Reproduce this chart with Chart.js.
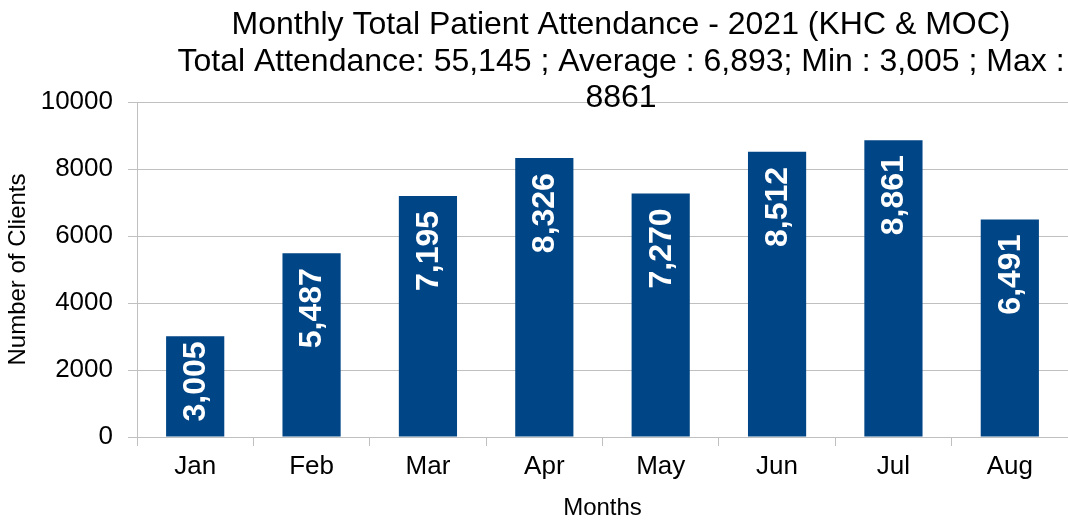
<!DOCTYPE html>
<html>
<head>
<meta charset="utf-8">
<script src="https://cdn.jsdelivr.net/npm/chart.js@4.4.1/dist/chart.umd.min.js"></script>
<style>
  html, body { margin: 0; padding: 0; background: #fff; }
  #wrap { width: 1068px; height: 520px; position: relative; }
</style>
</head>
<body>
<div id="wrap"><canvas id="c" width="1068" height="520"></canvas></div>
<script>
const categories = ["Jan", "Feb", "Mar", "Apr", "May", "Jun", "Jul", "Aug"];
const attendance = [3005, 5487, 7195, 8326, 7270, 8512, 8861, 6491];
const yTicks = [0, 2000, 4000, 6000, 8000, 10000];
const yTickLabels = ["0", "2000", "4000", "6000", "8000", "10000"];
const barLabels = ["3,005", "5,487", "7,195", "8,326", "7,270", "8,512", "8,861", "6,491"];
const titleLines = [
  "Monthly Total Patient Attendance - 2021 (KHC & MOC)",
  "Total Attendance: 55,145 ; Average : 6,893; Min : 3,005 ; Max :",
  "8861"
];
const yTitle = "Number of Clients";
const xTitle = "Months";

const FONT = "'Liberation Sans', Arial, sans-serif";
const BAR = "#004586";
const GRID = "#c0c0c0";

const titlePlugin = {
  id: 'multiTitle',
  afterDraw(chart) {
    const ctx = chart.ctx;
    ctx.save();
    ctx.fillStyle = '#000';
    ctx.font = "32px " + FONT;
    ctx.textAlign = 'center';
    ctx.textBaseline = 'middle';
    const ys = [25, 62, 98];
    titleLines.forEach((t, i) => ctx.fillText(t, 621, ys[i]));
    ctx.restore();
  }
};

const labelPlugin = {
  id: 'barLabels',
  afterDatasetsDraw(chart) {
    const ctx = chart.ctx;
    const meta = chart.getDatasetMeta(0);
    ctx.save();
    ctx.fillStyle = '#fff';
    ctx.font = "bold 32px " + FONT;
    ctx.textAlign = 'right';
    ctx.textBaseline = 'middle';
    meta.data.forEach((el, i) => {
      const txt = barLabels[i];
      const w = ctx.measureText(txt).width;
      let top = el.y + 15;
      if (top + w > el.base - 15) top = el.base - 15 - w;
      ctx.save();
      ctx.translate(el.x, top);
      ctx.rotate(-Math.PI / 2);
      ctx.fillText(txt, 0, 1);
      ctx.restore();
    });
    ctx.restore();
  }
};

new Chart(document.getElementById('c'), {
  type: 'bar',
  data: {
    labels: categories,
    datasets: [{
      data: attendance,
      backgroundColor: BAR,
      borderWidth: 0,
      categoryPercentage: 1.0,
      barPercentage: 0.5
    }]
  },
  options: {
    responsive: false,
    animation: false,
    layout: { padding: { top: 102, right: 0, left: 0, bottom: 0 } },
    plugins: {
      legend: { display: false },
      title: { display: false },
      tooltip: { enabled: false }
    },
    scales: {
      x: {
        offset: true,
        grid: { display: true, offset: true, drawOnChartArea: false, drawTicks: true, tickLength: 9, color: GRID },
        border: { display: true, color: GRID, width: 1 },
        ticks: { color: '#000', font: { family: FONT, size: 26 }, padding: 5 },
        title: { display: true, text: xTitle, color: '#000', font: { family: FONT, size: 24 }, padding: { top: 0, bottom: -3 } },
        afterFit(scale) { scale.height = 83; }
      },
      y: {
        min: 0, max: 10000,
        afterBuildTicks(scale) { scale.ticks = yTicks.map(v => ({ value: v })); },
        grid: { color: GRID, tickLength: 9, drawTicks: true },
        border: { display: true, color: GRID, width: 1 },
        ticks: {
          color: '#000', font: { family: FONT, size: 26 }, padding: 15,
          callback: (v) => yTickLabels[yTicks.indexOf(v)]
        },
        title: { display: true, text: yTitle, color: '#000', font: { family: FONT, size: 24 }, padding: { top: 4, bottom: 0 } },
        afterFit(scale) { scale.width = 137; }
      }
    }
  },
  plugins: [titlePlugin, labelPlugin]
});
</script>
</body>
</html>
